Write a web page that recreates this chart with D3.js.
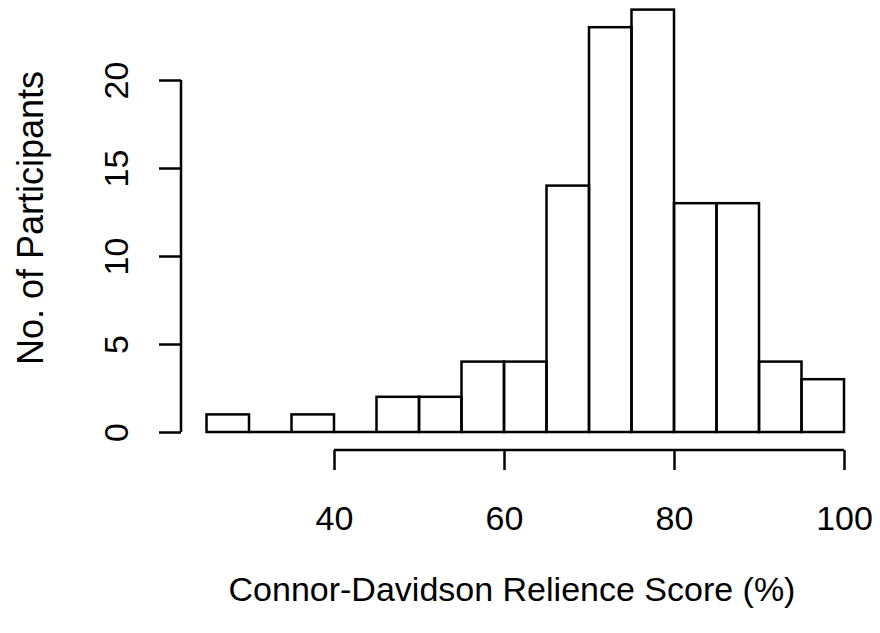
<!DOCTYPE html>
<html>
<head>
<meta charset="utf-8">
<script src="https://cdn.jsdelivr.net/npm/d3@7"></script>
<style>
	body { margin: 0; background: #fff; }
	text { font-family: "Liberation Sans", Arial, sans-serif; fill: #000; }
</style>
</head>
<body>
<div id="chart"></div>
<script>
var binStarts = [25, 30, 35, 40, 45, 50, 55, 60, 65, 70, 75, 80, 85, 90, 95];
var counts = [1, 0, 1, 0, 2, 2, 4, 4, 14, 23, 24, 13, 13, 4, 3];
var xTicks = [40, 60, 80, 100];
var yTicks = [0, 5, 10, 15, 20];
var binWidth = 5;

var width = 880;
var height = 633;
var fontSize = '34px';

var svg = d3.select('#chart')
	.append('svg')
	.attr('width', width)
	.attr('height', height);

// pixel range picked so 40 -> 334, 100 -> 844
var x = d3.scaleLinear()
	.domain([40, 100])
	.range([334, 844]);

var y = d3.scaleLinear()
	.domain([0, 20])
	.range([432, 80]);

var bins = binStarts.map(function(d, i){
	return {x0: d, x1: d + binWidth, count: counts[i]};
});

// bars
svg.selectAll('rect.bar')
	.data(bins.filter(function(b){ return b.count > 0; }))
	.enter()
	.append('rect')
	.attr('class', 'bar')
	.attr('x', function(b){ return x(b.x0); })
	.attr('width', function(b){ return x(b.x1) - x(b.x0); })
	.attr('y', function(b){ return y(b.count); })
	.attr('height', function(b){ return y(0) - y(b.count); })
	.attr('fill', 'none')
	.attr('stroke', '#000')
	.attr('stroke-width', 2.5);

// baseline where a bin is empty
svg.selectAll('line.zero')
	.data(bins.filter(function(b){ return b.count === 0; }))
	.enter()
	.append('line')
	.attr('class', 'zero')
	.attr('x1', function(b){ return x(b.x0); })
	.attr('x2', function(b){ return x(b.x1); })
	.attr('y1', y(0))
	.attr('y2', y(0))
	.attr('stroke', '#000')
	.attr('stroke-width', 2.5);

// x axis (R style, offset below)
var xAxis = d3.axisBottom(x)
	.tickValues(xTicks)
	.tickSize(20);

var gx = svg.append('g')
	.attr('transform', 'translate(0,450)')
	.call(xAxis);
gx.select('.domain').attr('stroke-width', 2.5).attr('d', 'M' + x(40) + ',0H' + x(100));
gx.selectAll('.tick line').attr('stroke-width', 2.5);
gx.selectAll('.tick text')
	.style('font-size', fontSize)
	.attr('y', 80)
	.attr('dy', 0);

// y axis
var yAxis = d3.axisLeft(y)
	.tickValues(yTicks)
	.tickSize(22);

var gy = svg.append('g')
	.attr('transform', 'translate(181,0)')
	.call(yAxis);
gy.select('.domain').attr('stroke-width', 2.5).attr('d', 'M0,' + y(0) + 'V' + y(20));
gy.selectAll('.tick line').attr('stroke-width', 2.5);
gy.selectAll('.tick text')
	.style('font-size', fontSize)
	.attr('x', 0)
	.attr('dy', 0)
	.attr('text-anchor', 'middle')
	.attr('transform', 'translate(-53,0) rotate(-90)');

// titles
svg.append('text')
	.attr('x', 512)
	.attr('y', 601)
	.attr('text-anchor', 'middle')
	.style('font-size', fontSize)
	.text('Connor-Davidson Relience Score (%)');

svg.append('text')
	.attr('transform', 'translate(43,218) rotate(-90)')
	.attr('text-anchor', 'middle')
	.style('font-size', '36px')
	.text('No. of Participants');
</script>
</body>
</html>
